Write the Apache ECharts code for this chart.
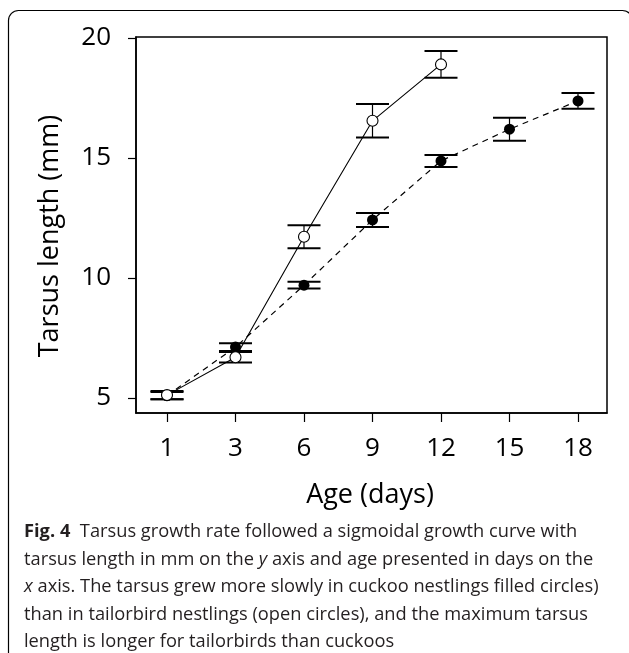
<!DOCTYPE html>
<html>
<head>
<meta charset="utf-8">
<script src="https://cdn.jsdelivr.net/npm/echarts@6/dist/echarts.min.js"></script>
<style>
html,body{margin:0;padding:0;background:#fff;}
#chart{width:629px;height:653px;}
</style>
</head>
<body>
<div id="chart"></div>
<script>
// ---- data ----
var ageLabels = ['1', '3', '6', '9', '12', '15', '18'];
var yTicks = [5, 10, 15, 20];
// Tailorbird nestlings (open circles), ages 1..12
var tailorMean = [5.12, 6.70, 11.72, 16.55, 18.90];
var tailorErr  = [0.17, 0.22, 0.48, 0.70, 0.56];
// Cuckoo nestlings (filled circles), ages 1..18
var cuckooMean = [5.10, 7.12, 9.70, 12.42, 14.88, 16.20, 17.38];
var cuckooErr  = [0.15, 0.16, 0.14, 0.29, 0.25, 0.48, 0.33];

var yTitle = 'Tarsus length (mm)';
var xTitle = 'Age (days)';
var captionLines = [
  '{b|Fig. 4}  Tarsus growth rate followed a sigmoidal growth curve with',
  'tarsus length in mm on the {i|y} axis and age presented in days on the',
  '{i|x} axis. The tarsus grew more slowly in cuckoo nestlings filled circles)',
  'than in tailorbird nestlings (open circles), and the maximum tarsus',
  'length is longer for tailorbirds than cuckoos'
];

function pts(arr) { return arr.map(function (v, i) { return [i, v]; }); }
function errPts(mean, err) { return mean.map(function (v, i) { return [i, v - err[i], v + err[i]]; }); }

var FONT = '"Open Sans", "Noto Sans", sans-serif';
var capFont = 18.5;

// measure to condense the caption font (reference uses a narrow typeface)
var cv = document.createElement('canvas').getContext('2d');
cv.font = capFont + 'px "Open Sans"';
var plain2 = 'tarsus length in mm on the y axis and age presented in days on the';
var capScale = 570 / cv.measureText(plain2).width;

function errorRender(params, api) {
  var x = api.value(0);
  var lo = api.coord([x, api.value(1)]);
  var hi = api.coord([x, api.value(2)]);
  var hw = 16.5;
  return {
    type: 'group',
    children: [
      { type: 'line', shape: { x1: lo[0], y1: lo[1], x2: hi[0], y2: hi[1] }, style: { stroke: '#000', lineWidth: 1.2 } },
      { type: 'line', shape: { x1: lo[0] - hw, y1: lo[1], x2: lo[0] + hw, y2: lo[1] }, style: { stroke: '#000', lineWidth: 2 } },
      { type: 'line', shape: { x1: hi[0] - hw, y1: hi[1], x2: hi[0] + hw, y2: hi[1] }, style: { stroke: '#000', lineWidth: 2 } }
    ]
  };
}

var graphics = [
  { type: 'rect', shape: { x: 8.5, y: 10.5, width: 624, height: 700, r: 10 },
    style: { fill: 'none', stroke: '#000', lineWidth: 1.2 }, silent: true },
  { type: 'text', x: 50, y: 236, rotation: Math.PI / 2,
    style: { text: yTitle, fontSize: 27, fontFamily: FONT, fill: '#000', align: 'center', verticalAlign: 'middle' } },
  { type: 'text', x: 370, y: 495,
    style: { text: xTitle, fontSize: 27, fontFamily: FONT, fill: '#000', align: 'center', verticalAlign: 'middle' } }
];
var capBase = [532, 559.5, 587, 614.5, 642];
captionLines.forEach(function (t, k) {
  graphics.push({
    type: 'text', x: 24, y: capBase[k], scaleX: capScale, scaleY: 1,
    style: {
      text: t, fontSize: capFont, fontFamily: FONT, fill: '#231f20',
      align: 'left', verticalAlign: 'middle',
      rich: {
        b: { fontWeight: 'bold', fontSize: capFont, fontFamily: FONT, fill: '#231f20' },
        i: { fontStyle: 'italic', fontSize: capFont, fontFamily: FONT, fill: '#231f20' }
      }
    }
  });
});

var chart = echarts.init(document.getElementById('chart'), null, { renderer: 'canvas' });
chart.setOption({
  animation: false,
  backgroundColor: '#fff',
  grid: { left: 136, right: 22, top: 37, bottom: 240, show: true, borderColor: '#000', borderWidth: 1.5, backgroundColor: 'transparent' },
  xAxis: {
    type: 'value', min: -0.4526, max: 6.4234,
    splitLine: { show: false },
    axisLine: { show: true, onZero: false, lineStyle: { color: '#000', width: 1.5 } },
    axisTick: { show: true, length: 9, customValues: [0, 1, 2, 3, 4, 5, 6], lineStyle: { color: '#000', width: 1.2 } },
    axisLabel: { customValues: [0, 1, 2, 3, 4, 5, 6], margin: 23, fontSize: 26, fontFamily: FONT, color: '#000',
      formatter: function (v) { return ageLabels[Math.round(v)]; } }
  },
  yAxis: {
    type: 'value', min: 4.375, max: 20.042,
    splitLine: { show: false },
    axisLine: { show: true, onZero: false, lineStyle: { color: '#000', width: 1.5 } },
    axisTick: { show: true, length: 8, customValues: yTicks, lineStyle: { color: '#000', width: 1.2 } },
    axisLabel: { customValues: yTicks, margin: 25, fontSize: 26, fontFamily: FONT, color: '#000' }
  },
  graphic: graphics,
  series: [
    { name: 'cuckooLine', type: 'line', data: pts(cuckooMean), symbol: 'none', z: 1,
      lineStyle: { color: '#000', width: 1.2, type: [6, 5] } },
    { name: 'tailorLine', type: 'line', data: pts(tailorMean), symbol: 'none', z: 1,
      lineStyle: { color: '#000', width: 1.1 } },
    { name: 'cuckooErr', type: 'custom', data: errPts(cuckooMean, cuckooErr), renderItem: errorRender, z: 2,
      encode: { x: 0, y: [1, 2] } },
    { name: 'tailorErr', type: 'custom', data: errPts(tailorMean, tailorErr), renderItem: errorRender, z: 2,
      encode: { x: 0, y: [1, 2] } },
    { name: 'cuckoo', type: 'scatter', data: pts(cuckooMean), symbol: 'circle', symbolSize: 11, z: 3,
      itemStyle: { color: '#000', opacity: 1 } },
    { name: 'tailor', type: 'scatter', data: pts(tailorMean), symbol: 'circle', symbolSize: 11, z: 4,
      itemStyle: { color: '#fff', borderColor: '#000', borderWidth: 1.1, opacity: 1 } }
  ]
});
</script>
</body>
</html>
